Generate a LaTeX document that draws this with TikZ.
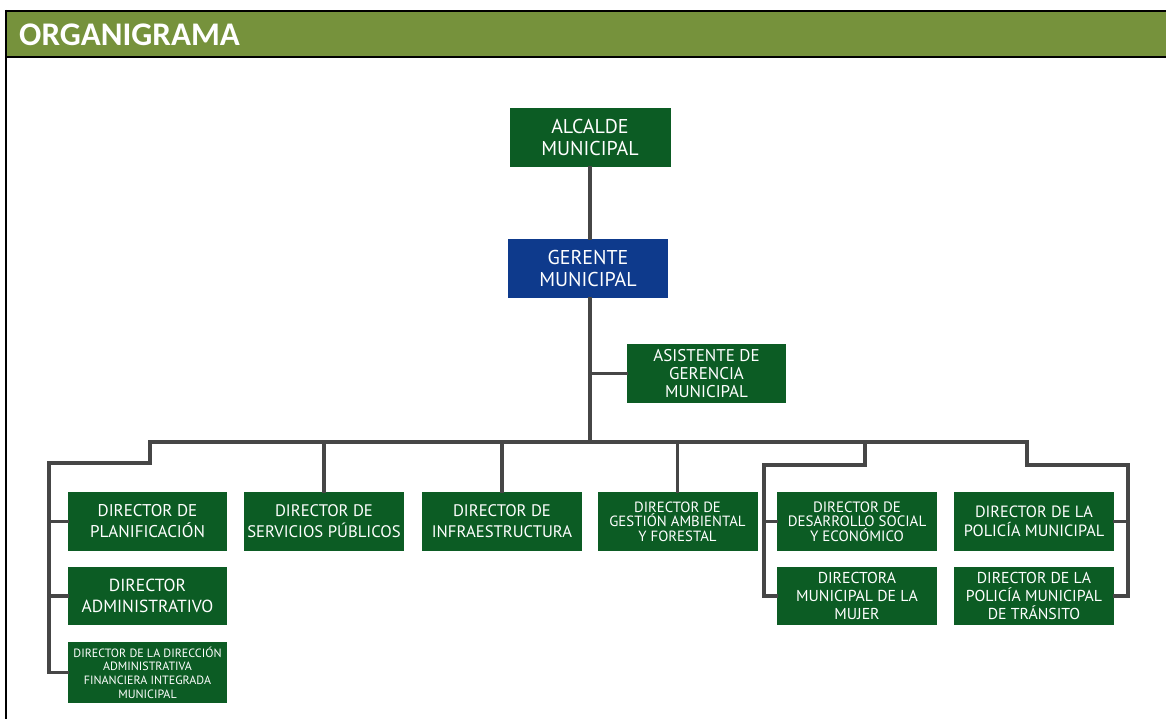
\documentclass[tikz,border=0pt]{standalone}
\usepackage{fontspec}
\setmainfont{PT Sans}
\newfontfamily\titlefont{Carlito}
\definecolor{hdrgreen}{RGB}{118,146,60}
\definecolor{boxgreen}{RGB}{12,92,36}
\definecolor{boxblue}{RGB}{14,58,140}
\definecolor{linegray}{RGB}{70,70,70}
\tikzset{
  orgbox/.style={fill=boxgreen, text=white, inner sep=0pt, align=center,
    minimum width=160pt, minimum height=59pt, font=\fontsize{16.7}{21}\selectfont},
  bigbox/.style={orgbox, minimum width=161pt, font=\fontsize{20}{22}\selectfont},
  conn/.style={draw=linegray, line width=3.2pt, line cap=rect}
}
\begin{document}
\begin{tikzpicture}[x=1pt,y=-1pt]
\useasboundingbox (0,0) rectangle (1166,719);
% frame and header
\fill[hdrgreen] (6,11) rectangle (1166,57);
\draw[line width=2.5pt] (6,11) -- (1166,11);
\draw[line width=2.5pt] (6,57) -- (1166,57);
\draw[line width=2.5pt] (6,10) -- (6,719);
\node[anchor=base west, text=white, inner sep=0pt, font=\titlefont\bfseries\fontsize{33}{36}\selectfont] (title) at (19,46) {ORGANIGRAMA};
% boxes
\node[bigbox] (alc) at (590,137.5) {ALCALDE\\MUNICIPAL};
\node[bigbox, fill=boxblue, minimum width=160pt] (ger) at (588,268.5) {GERENTE\\MUNICIPAL};
\node[orgbox, minimum width=159pt, font=\fontsize{17}{18}\selectfont] (asi) at (706.5,373.5) {ASISTENTE DE\\GERENCIA\\MUNICIPAL};
\node[orgbox, minimum width=159pt, font=\fontsize{17}{21}\selectfont] (plan) at (147.5,521.5) {DIRECTOR DE\\PLANIFICACIÓN};
\node[orgbox] (serv) at (324,521.5) {DIRECTOR DE\\SERVICIOS PÚBLICOS};
\node[orgbox] (infra) at (502,521.5) {DIRECTOR DE\\INFRAESTRUCTURA};
\node[orgbox, font=\fontsize{14.8}{14.5}\selectfont] (gest) at (677.5,521.5) {DIRECTOR DE\\GESTIÓN AMBIENTAL\\Y FORESTAL};
\node[orgbox, font=\fontsize{15}{14.5}\selectfont] (desa) at (857,521.5) {DIRECTOR DE\\DESARROLLO SOCIAL\\Y ECONÓMICO};
\node[orgbox, font=\fontsize{16.3}{19.5}\selectfont] (poli) at (1034,521.5) {DIRECTOR DE LA\\POLICÍA MUNICIPAL};
\node[orgbox, minimum width=159pt, minimum height=58pt, font=\fontsize{17.5}{21.5}\selectfont] (adm) at (147.5,596) {DIRECTOR\\ADMINISTRATIVO};
\node[orgbox, minimum width=159pt, minimum height=61pt, font=\fontsize{12}{13.6}\selectfont] (ddafim) at (147.5,672.5) {DIRECTOR DE LA DIRECCIÓN\\ADMINISTRATIVA\\FINANCIERA INTEGRADA\\MUNICIPAL};
\node[orgbox, minimum height=58pt, font=\fontsize{15.8}{17.8}\selectfont] (mujer) at (857,596) {DIRECTORA\\MUNICIPAL DE LA\\MUJER};
\node[orgbox, minimum height=58pt, font=\fontsize{15.8}{17.8}\selectfont] (trans) at (1034,596) {DIRECTOR DE LA\\POLICÍA MUNICIPAL\\DE TRÁNSITO};
% bus coordinates
\coordinate (busC) at (590,442);
\coordinate (busL) at (150,442);
\coordinate (busR) at (1027,442);
\coordinate (stepL) at (49,463);
\coordinate (stepM) at (764,465);
\coordinate (stepR) at (1128,465);
\coordinate (midB) at (865,442);
% connectors
\draw[conn] (alc.south) -- (alc.south |- ger.north);
\draw[conn] (busC |- ger.south) -- (busC);
\draw[conn] (busC |- asi.west) -- (asi.west);
\draw[conn] (busL) -- (busR);
\draw[conn] (busL) -- (busL |- stepL) -- (stepL) -- (stepL |- ddafim.west) -- (ddafim.west);
\draw[conn] (stepL |- plan.west) -- (plan.west);
\draw[conn] (stepL |- adm.west) -- (adm.west);
\draw[conn] (serv.north |- busC) -- (serv.north);
\draw[conn] (infra.north |- busC) -- (infra.north);
\draw[conn] (gest.north |- busC) -- (gest.north);
\draw[conn] (midB) -- (midB |- stepM) -- (stepM) -- (stepM |- mujer.west) -- (mujer.west);
\draw[conn] (stepM |- desa.west) -- (desa.west);
\draw[conn] (busR) -- (busR |- stepR) -- (stepR) -- (stepR |- trans.east) -- (trans.east);
\draw[conn] (stepR |- poli.east) -- (poli.east);
\end{tikzpicture}
\end{document}
